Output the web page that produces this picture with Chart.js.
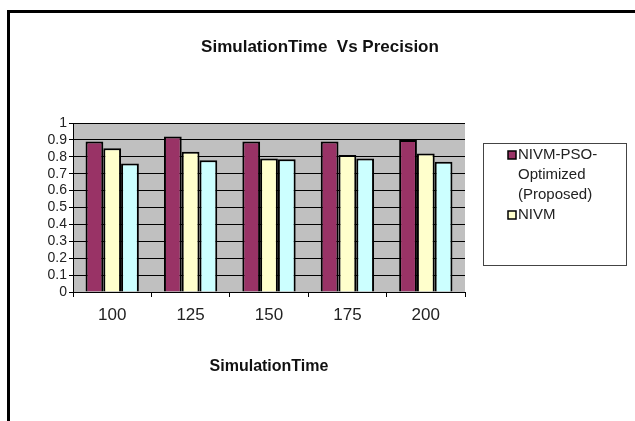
<!DOCTYPE html>
<html>
<head>
<meta charset="utf-8">
<script src="https://cdn.jsdelivr.net/npm/chart.js@4.4.0/dist/chart.umd.min.js"></script>
<style>
  html, body { margin: 0; padding: 0; background: #fff; }
  #wrap { width: 635px; height: 421px; }
</style>
</head>
<body>
<div id="wrap"><canvas id="precisionChart" width="635" height="421"></canvas></div>
<script>
// Chart data
const categories = ['100', '125', '150', '175', '200'];
const seriesNames = ['NIVM-PSO-Optimized (Proposed)', 'NIVM', 'Existing'];
const proposedValues = [0.89, 0.92, 0.89, 0.89, 0.90];
const nivmValues = [0.85, 0.83, 0.79, 0.81, 0.82];
const existingValues = [0.76, 0.78, 0.785, 0.79, 0.77];
const yTicks = [0, 0.1, 0.2, 0.3, 0.4, 0.5, 0.6, 0.7, 0.8, 0.9, 1];
const chartTitle = 'SimulationTime  Vs Precision';
const xTitle = 'SimulationTime';

const font = "'Liberation Sans', Arial, sans-serif";

// frame, gray plot background, title, legend box
const decorPlugin = {
    id: 'decor',
    beforeDraw(chart) {
        const { ctx, chartArea } = chart;
        ctx.save();
        ctx.fillStyle = '#c0c0c0';
        ctx.fillRect(chartArea.left, chartArea.top, chartArea.right - chartArea.left, chartArea.bottom - chartArea.top);
        ctx.restore();
    },
    afterDraw(chart) {
        const { ctx } = chart;
        ctx.save();
        // outer frame (top and left edges visible)
        ctx.fillStyle = '#000';
        ctx.fillRect(7, 10, 628, 3);
        ctx.fillRect(7, 10, 3, 411);

        // chart title
        ctx.fillStyle = '#111';
        ctx.font = "bold 17px " + font;
        ctx.textAlign = 'center';
        ctx.textBaseline = 'middle';
        ctx.fillText(chartTitle, 320, 47);

        // legend box
        ctx.strokeStyle = '#444';
        ctx.lineWidth = 1;
        ctx.strokeRect(483.5, 143.5, 143, 122);
        ctx.font = "15px " + font;
        ctx.textAlign = 'left';
        let y = 155;
        chart.data.datasets.slice(0, 2).forEach(ds => {
            ctx.fillStyle = ds.backgroundColor;
            ctx.fillRect(508, y - 4, 8, 8);
            ctx.strokeStyle = '#000';
            ctx.lineWidth = 1.5;
            ctx.strokeRect(508, y - 4, 8, 8);
            ctx.fillStyle = '#222';
            const lines = ds.legendLines;
            lines.forEach((ln, i) => {
                ctx.fillText(ln, 518, y + i * 20);
            });
            y += lines.length * 20;
        });
        ctx.restore();
    }
};

const ctx = document.getElementById('precisionChart').getContext('2d');
const precisionChart = new Chart(ctx, {
    type: 'bar',
    data: {
        labels: categories,
        datasets: [{
            label: seriesNames[0],
            legendLines: ['NIVM-PSO-', 'Optimized', '(Proposed)'],
            data: proposedValues,
            backgroundColor: '#993366',
            borderColor: '#000',
            borderWidth: 2
        }, {
            label: seriesNames[1],
            legendLines: ['NIVM'],
            data: nivmValues,
            backgroundColor: '#ffffcc',
            borderColor: '#000',
            borderWidth: 2
        }, {
            label: seriesNames[2],
            legendLines: [seriesNames[2]],
            data: existingValues,
            backgroundColor: '#ccffff',
            borderColor: '#000',
            borderWidth: 2
        }]
    },
    options: {
        responsive: false,
        animation: false,
        layout: { padding: { left: 0, right: 170, top: 123, bottom: 45 } },
        datasets: {
            bar: { categoryPercentage: 0.68, barPercentage: 1 }
        },
        plugins: {
            legend: { display: false },
            title: { display: false },
            tooltip: { enabled: false }
        },
        scales: {
            x: {
                grid: {
                    offset: true,
                    drawOnChartArea: false,
                    drawTicks: true,
                    tickLength: 5,
                    color: '#000'
                },
                border: { color: '#000', width: 1 },
                ticks: {
                    color: '#222',
                    padding: 8,
                    font: { family: font, size: 17 }
                },
                title: {
                    display: true,
                    text: xTitle,
                    color: '#111',
                    padding: 0,
                    font: { family: font, size: 16, weight: 'bold' }
                },
                afterFit(scale) { scale.height = 84; }
            },
            y: {
                min: 0,
                max: 1,
                afterBuildTicks(scale) {
                    scale.ticks = yTicks.map(v => ({ value: v }));
                },
                grid: {
                    color: '#000',
                    tickLength: 4,
                    drawTicks: true
                },
                border: { color: '#000', width: 1 },
                ticks: {
                    color: '#222',
                    padding: 2,
                    autoSkip: false,
                    font: { family: font, size: 14 },
                    callback: v => String(Math.round(v * 10) / 10)
                },
                afterFit(scale) { scale.width = 73; }
            }
        }
    },
    plugins: [decorPlugin]
});
</script>
</body>
</html>
